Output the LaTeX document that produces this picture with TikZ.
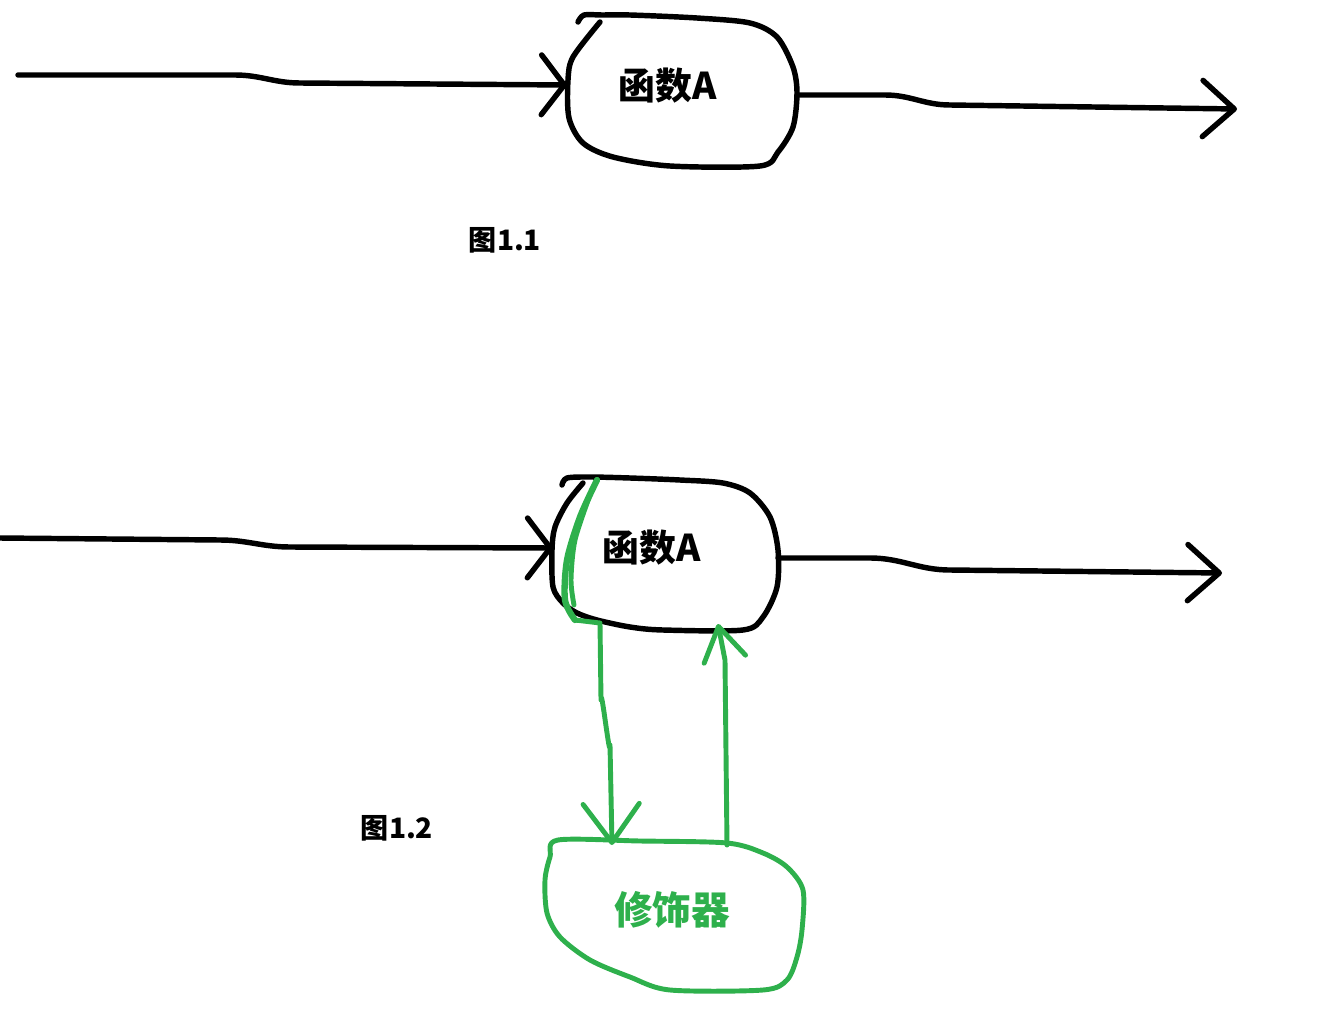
\documentclass[tikz,border=0pt]{standalone}
\usepackage{fontspec}
\newfontfamily\cjk{Noto Sans CJK SC}
\usetikzlibrary{arrows.meta}
\definecolor{pen}{RGB}{46,176,76}

\begin{document}
\begin{tikzpicture}[x=0.02cm,y=-0.02cm,
    ink/.style={draw=black,line width=3.1pt,line cap=round,line join=round},
    gink/.style={draw=pen,line width=2.8pt,line cap=round,line join=round},
    lbl/.style={font=\cjk\bfseries\fontsize{21}{25}\selectfont,inner sep=0pt},
    figlbl/.style={font=\cjk\bfseries\fontsize{16}{19}\selectfont,inner sep=0pt},
    inarr/.style={-{Straight Barb[length=13pt,width=34pt,round]}},
    outarr/.style={-{Straight Barb[length=18pt,width=32pt,round]}},
    garr/.style={-{Straight Barb[length=22pt,width=32pt,round]}},
    uparr/.style={-{Straight Barb[length=19pt,width=24pt,round]}}]
    \useasboundingbox (0,0) rectangle (1322,1014);

    \node[lbl] (fa1) at (668,86) {函数A};
    \node[lbl] (fa2) at (652,548) {函数A};
    \node[figlbl] (fig1) at (505,240) {图1.1};
    \node[figlbl] (fig2) at (397,828) {图1.2};
    \node[lbl,text=pen,font=\cjk\bfseries\fontsize{22}{26}\selectfont] (dec) at (672,910) {修饰器};

    \coordinate (in1) at (18,75);
    \coordinate (a1w) at (567,85);
    \coordinate (a1e) at (797,95);
    \coordinate (out1) at (1237,109);
    \coordinate (in2) at (0,538);
    \coordinate (a2w) at (553,548);
    \coordinate (a2e) at (778,558);
    \coordinate (out2) at (1222,573);
    \coordinate (a2sw) at (575,620);
    \coordinate (a2s) at (718,624);
    \coordinate (dnw) at (612,845);
    \coordinate (dne) at (727,845);

    \draw[ink] plot[smooth] coordinates {(600,22) (573,57) (568,80) (569,118) (583,143)
        (613,157) (670,166) (760,166) (778,152) (793,127) (797,93) (793,67) (777,37)
        (750,23) (697,18) (630,15) (602,15) (584,15) (578,22)};
    \draw[ink] plot[smooth] coordinates {(583,483) (567,503) (555,527) (552,550) (553,587)
        (563,603) (577,613) (597,620) (630,627) (663,630) (743,630) (763,617) (777,587)
        (778,550) (770,517) (750,493) (723,483) (680,480) (630,478) (590,477) (567,478) (562,485)};
    \draw[gink] plot[smooth cycle] coordinates {(558,840) (640,841) (727,843) (763,853)
        (787,867) (803,890) (802,930) (797,957) (787,980) (763,990) (670,990) (630,977)
        (590,960) (560,937) (547,913) (545,880) (550,857)};

    \draw[ink,inarr] (in1) -- (235,75) to[out=0,in=180] (300,83) -- (a1w);
    \draw[ink,outarr] (a1e) -- (885,95) to[out=0,in=180] (950,105) -- (out1);
    \draw[ink,inarr] (in2) -- (220,540) to[out=0,in=180] (290,547) -- (a2w);
    \draw[ink,outarr] (a2e) -- (870,558) to[out=0,in=180] (950,570) -- (out2);

    \draw[gink,line width=3.6pt] plot[smooth] coordinates {(597,480) (580,517) (567,560) (565,600) (a2sw)};
    \draw[gink] plot[smooth] coordinates {(590,495) (575,540) (571,580) (574,605)};
    \draw[gink,garr] (a2sw) -- (600,623) -- (601,700) to[out=90,in=-90] (610,745) -- (dnw);
    \draw[gink,uparr] (dne) -- (725,660) -- (a2s);
\end{tikzpicture}
\end{document}
